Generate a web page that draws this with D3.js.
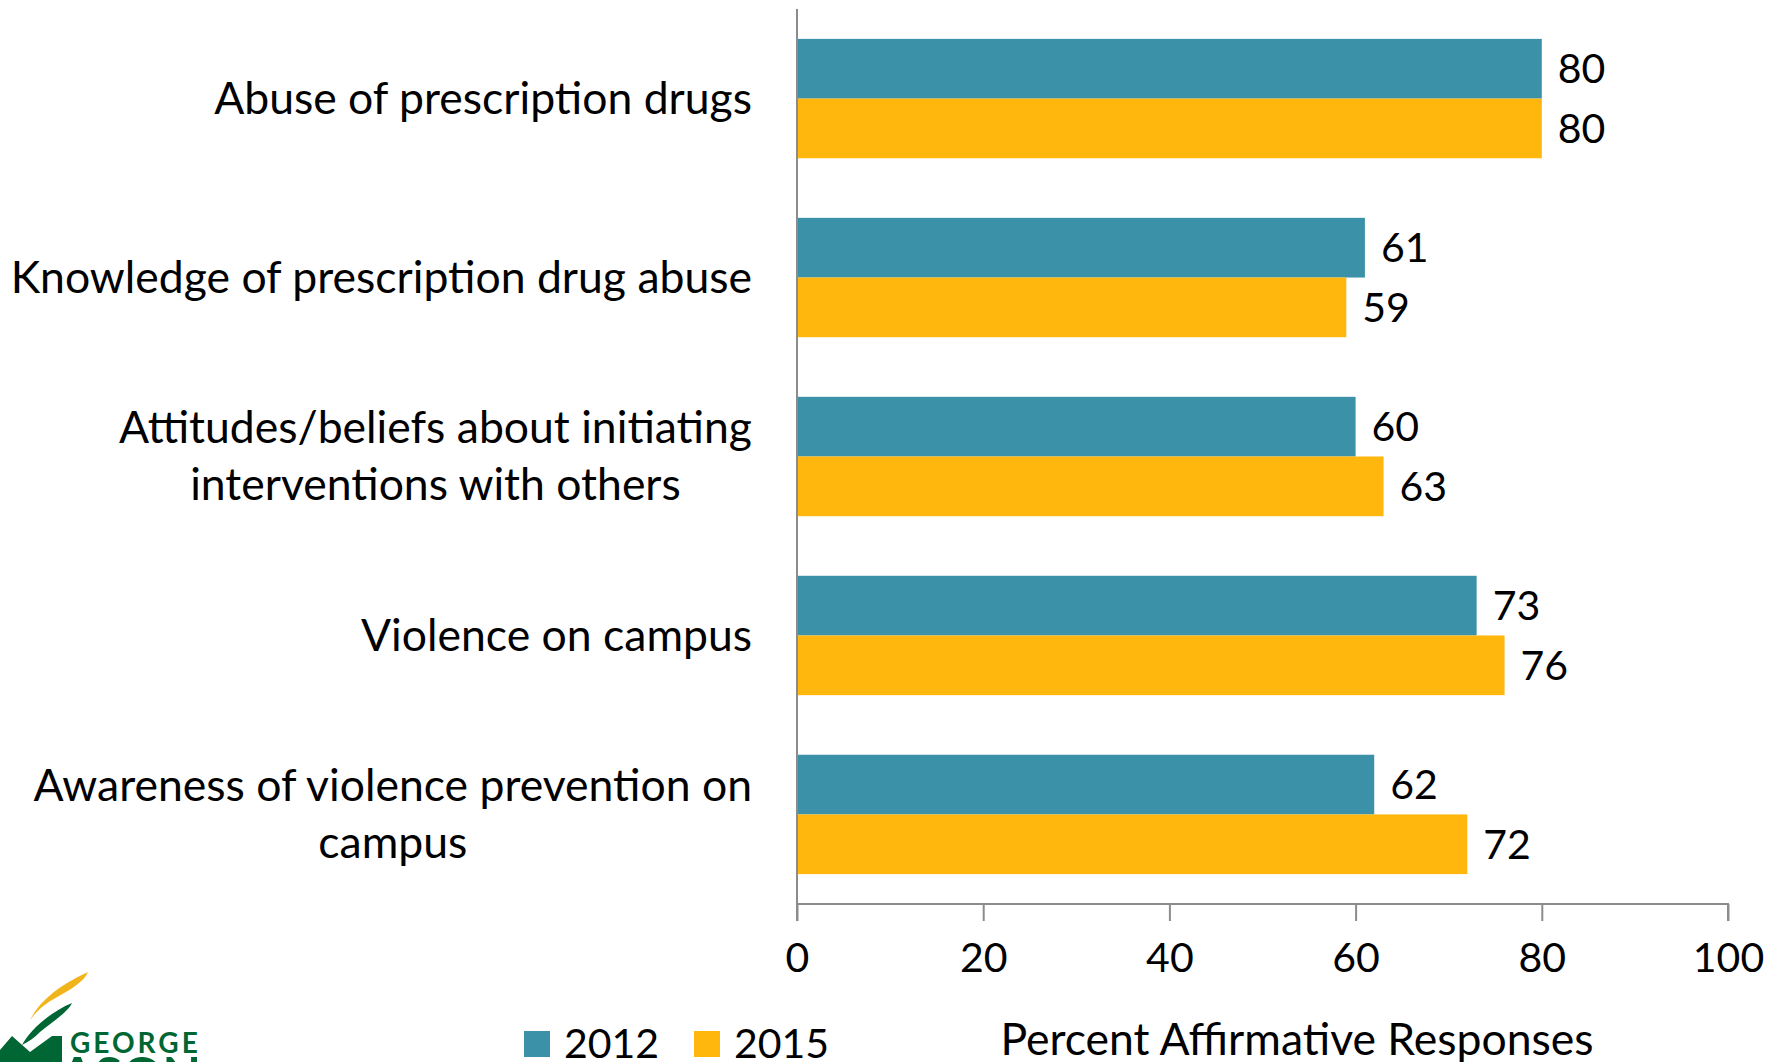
<!DOCTYPE html>
<html>
<head>
<meta charset="utf-8">
<script src="https://cdn.jsdelivr.net/npm/d3@7"></script>
<style>
  html, body { margin: 0; padding: 0; background: #fff; }
  svg { display: block; }
  text { font-family: Lato, "Open Sans", sans-serif; fill: #000; }
</style>
</head>
<body>
<svg id="chart" width="1783" height="1062"></svg>
<script>
// ---- data ----
const categories = [
  ["Abuse of prescription drugs"],
  ["Knowledge of prescription drug abuse"],
  ["Attitudes/beliefs about initiating", "interventions with others"],
  ["Violence on campus"],
  ["Awareness of violence prevention on", "campus"]
];
const seriesNames = ["2012", "2015"];
const values2012 = [80, 61, 60, 73, 62];
const values2015 = [80, 59, 63, 76, 72];
const tickValues = [0, 20, 40, 60, 80, 100];
const axisTitle = "Percent Affirmative Responses";
const colors = ["#3A91A8", "#FFB60D"];

// ---- layout ----
const svg = d3.select("#chart");
const x = d3.scaleLinear().domain([0, 100]).range([797, 1728]);
const y = d3.scaleBand().domain(d3.range(categories.length)).range([9, 904])
  .paddingInner(0.333).paddingOuter(0.167);
const ySub = d3.scaleBand().domain([0, 1]).range([0, y.bandwidth()]);
const series = [values2012, values2015];
const fontSize = 41;
const labelFont = 44.5;

// bars
const g = svg.append("g");
series.forEach((vals, si) => {
  g.selectAll(".bar" + si).data(vals).enter().append("rect")
    .attr("x", x(0))
    .attr("y", (d, i) => y(i) + ySub(si))
    .attr("width", d => x(d) - x(0))
    .attr("height", ySub.bandwidth())
    .attr("fill", colors[si]);
  g.selectAll(".lbl" + si).data(vals).enter().append("text")
    .attr("x", d => x(d) + 16)
    .attr("y", (d, i) => y(i) + ySub(si) + ySub.bandwidth() / 2)
    .attr("dy", "0.36em")
    .attr("font-size", fontSize)
    .text(d => d);
});

// axes
const axisColor = "#8c8c8c";
const xAxis = svg.append("g").attr("transform", `translate(0,904)`)
  .call(d3.axisBottom(x).tickValues(tickValues).tickSize(17).tickPadding(22));
xAxis.select(".domain").attr("stroke", axisColor).attr("stroke-width", 2)
  .attr("d", `M${x(0)},17V0H${x(100)}V17`);
xAxis.selectAll(".tick line").attr("stroke", axisColor).attr("stroke-width", 2);
xAxis.selectAll(".tick text").attr("font-size", fontSize).attr("font-family", "Lato, sans-serif").attr("fill", "#000");

svg.append("line").attr("x1", x(0)).attr("x2", x(0)).attr("y1", 9).attr("y2", 904)
  .attr("stroke", axisColor).attr("stroke-width", 2);

// category labels
const labelRight = 752;
const lineGap = 57;
categories.forEach((lines, i) => {
  const cy = y(i) + y.bandwidth() / 2;
  const tg = svg.append("g");
  const texts = lines.map((ln, k) => tg.append("text")
    .attr("font-size", labelFont)
    .attr("text-anchor", "middle")
    .attr("y", cy + (k - (lines.length - 1) / 2) * lineGap)
    .attr("dy", "0.34em")
    .text(ln));
  const maxW = d3.max(texts, t => t.node().getComputedTextLength());
  texts.forEach(t => t.attr("x", labelRight - maxW / 2));
});

// axis title
svg.append("text").attr("x", 1297).attr("y", 1039).attr("dy", "0.36em")
  .attr("text-anchor", "middle").attr("font-size", labelFont).text(axisTitle);

// legend
const legendX = [524, 694];
seriesNames.forEach((name, i) => {
  svg.append("rect").attr("x", legendX[i]).attr("y", 1031).attr("width", 26).attr("height", 26)
    .attr("fill", colors[i]);
  svg.append("text").attr("x", legendX[i] + 40).attr("y", 1043).attr("dy", "0.36em")
    .attr("font-size", fontSize).text(name);
});

// logo (decorative)
const logo = svg.append("g");
logo.append("path").attr("d", "M30,1020 C40,1000 60,985 88,972 C84,982 70,990 52,1000 C42,1006 36,1012 30,1020 Z")
  .attr("fill", "#F2B41B");
logo.append("path").attr("d", "M22,1045 C30,1030 50,1012 72,1003 C68,1012 52,1022 40,1032 C34,1038 28,1042 22,1045 Z")
  .attr("fill", "#006633");
logo.append("path").attr("d", "M0,1062 L0,1050 L12,1036 L30,1052 L52,1036 L62,1036 L62,1062 Z")
  .attr("fill", "#006633");
logo.append("text").attr("x", 70).attr("y", 1053).attr("font-size", 28).attr("font-weight", "bold")
  .attr("letter-spacing", 3).attr("font-family", "DejaVu Sans Condensed, DejaVu Sans, sans-serif")
  .style("fill", "#006633").text("GEORGE");
logo.append("text").attr("x", 60).attr("y", 1093).attr("font-size", 50).attr("font-weight", "bold")
  .attr("font-family", "DejaVu Sans, sans-serif").style("fill", "#006633").text("ASON");
</script>
</body>
</html>
